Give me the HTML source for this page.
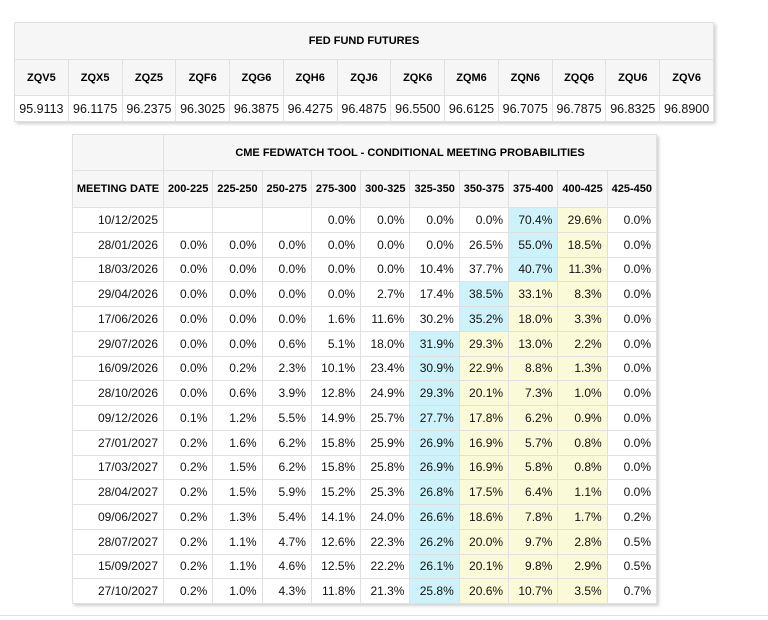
<!DOCTYPE html>
<html>
<head>
<meta charset="utf-8">
<style>
  html, body { margin: 0; padding: 0; background: #fff; }
  body { width: 768px; height: 620px; position: relative; overflow: hidden;
         font-family: "Liberation Sans", Arial, sans-serif; color: #111; }
  table { border-collapse: collapse; table-layout: fixed; position: absolute;
          box-shadow: 2px 2px 3px rgba(0,0,0,0.18); background: #fff; }
  td, th { border: 1px solid #e0e0e0; padding: 0 5px; white-space: nowrap; overflow: hidden; }
  th { background: #f6f6f6; font-weight: bold; font-size: 11px; text-align: center; color: #000; }
  #t1 { left: 14px; top: 22px; width: 700px; }
  #t1 td { font-size: 12.5px; text-align: center; padding: 0 2px; }
  #t2 { left: 72px; top: 134px; width: 584px; }
  #t2 td { font-size: 12px; text-align: right; height: 23.75px; padding: 0 5px 0 0; }
  .b { background: #cef2fa; }
  .y { background: #fafad8; }
  #line { position: absolute; left: 0; top: 615px; width: 768px; height: 1px; background: #e0e0e0; }
</style>
</head>
<body>

<table id="t1">
  <tr style="height:37px"><th colspan="13">FED FUND FUTURES</th></tr>
  <tr style="height:36px">
    <th>ZQV5</th><th>ZQX5</th><th>ZQZ5</th><th>ZQF6</th><th>ZQG6</th><th>ZQH6</th><th>ZQJ6</th><th>ZQK6</th><th>ZQM6</th><th>ZQN6</th><th>ZQQ6</th><th>ZQU6</th><th>ZQV6</th>
  </tr>
  <tr style="height:26px">
    <td>95.9113</td><td>96.1175</td><td>96.2375</td><td>96.3025</td><td>96.3875</td><td>96.4275</td><td>96.4875</td><td>96.5500</td><td>96.6125</td><td>96.7075</td><td>96.7875</td><td>96.8325</td><td>96.8900</td>
  </tr>
</table>

<table id="t2">
  <colgroup>
    <col style="width:91px">
    <col span="10" style="width:49.3px">
  </colgroup>
  <tr style="height:36px"><th></th><th colspan="10">CME FEDWATCH TOOL - CONDITIONAL MEETING PROBABILITIES</th></tr>
  <tr style="height:37px">
    <th style="padding:0 3px">MEETING DATE</th><th style="padding:0">200-225</th><th style="padding:0">225-250</th><th style="padding:0">250-275</th><th style="padding:0">275-300</th><th style="padding:0">300-325</th><th style="padding:0">325-350</th><th style="padding:0">350-375</th><th style="padding:0">375-400</th><th style="padding:0">400-425</th><th style="padding:0">425-450</th>
  </tr>
  <tr><td>10/12/2025</td><td></td><td></td><td></td><td>0.0%</td><td>0.0%</td><td>0.0%</td><td>0.0%</td><td class="b">70.4%</td><td class="y">29.6%</td><td>0.0%</td></tr>
  <tr><td>28/01/2026</td><td>0.0%</td><td>0.0%</td><td>0.0%</td><td>0.0%</td><td>0.0%</td><td>0.0%</td><td>26.5%</td><td class="b">55.0%</td><td class="y">18.5%</td><td>0.0%</td></tr>
  <tr><td>18/03/2026</td><td>0.0%</td><td>0.0%</td><td>0.0%</td><td>0.0%</td><td>0.0%</td><td>10.4%</td><td>37.7%</td><td class="b">40.7%</td><td class="y">11.3%</td><td>0.0%</td></tr>
  <tr><td>29/04/2026</td><td>0.0%</td><td>0.0%</td><td>0.0%</td><td>0.0%</td><td>2.7%</td><td>17.4%</td><td class="b">38.5%</td><td class="y">33.1%</td><td class="y">8.3%</td><td>0.0%</td></tr>
  <tr><td>17/06/2026</td><td>0.0%</td><td>0.0%</td><td>0.0%</td><td>1.6%</td><td>11.6%</td><td>30.2%</td><td class="b">35.2%</td><td class="y">18.0%</td><td class="y">3.3%</td><td>0.0%</td></tr>
  <tr><td>29/07/2026</td><td>0.0%</td><td>0.0%</td><td>0.6%</td><td>5.1%</td><td>18.0%</td><td class="b">31.9%</td><td class="y">29.3%</td><td class="y">13.0%</td><td class="y">2.2%</td><td>0.0%</td></tr>
  <tr><td>16/09/2026</td><td>0.0%</td><td>0.2%</td><td>2.3%</td><td>10.1%</td><td>23.4%</td><td class="b">30.9%</td><td class="y">22.9%</td><td class="y">8.8%</td><td class="y">1.3%</td><td>0.0%</td></tr>
  <tr><td>28/10/2026</td><td>0.0%</td><td>0.6%</td><td>3.9%</td><td>12.8%</td><td>24.9%</td><td class="b">29.3%</td><td class="y">20.1%</td><td class="y">7.3%</td><td class="y">1.0%</td><td>0.0%</td></tr>
  <tr><td>09/12/2026</td><td>0.1%</td><td>1.2%</td><td>5.5%</td><td>14.9%</td><td>25.7%</td><td class="b">27.7%</td><td class="y">17.8%</td><td class="y">6.2%</td><td class="y">0.9%</td><td>0.0%</td></tr>
  <tr><td>27/01/2027</td><td>0.2%</td><td>1.6%</td><td>6.2%</td><td>15.8%</td><td>25.9%</td><td class="b">26.9%</td><td class="y">16.9%</td><td class="y">5.7%</td><td class="y">0.8%</td><td>0.0%</td></tr>
  <tr><td>17/03/2027</td><td>0.2%</td><td>1.5%</td><td>6.2%</td><td>15.8%</td><td>25.8%</td><td class="b">26.9%</td><td class="y">16.9%</td><td class="y">5.8%</td><td class="y">0.8%</td><td>0.0%</td></tr>
  <tr><td>28/04/2027</td><td>0.2%</td><td>1.5%</td><td>5.9%</td><td>15.2%</td><td>25.3%</td><td class="b">26.8%</td><td class="y">17.5%</td><td class="y">6.4%</td><td class="y">1.1%</td><td>0.0%</td></tr>
  <tr><td>09/06/2027</td><td>0.2%</td><td>1.3%</td><td>5.4%</td><td>14.1%</td><td>24.0%</td><td class="b">26.6%</td><td class="y">18.6%</td><td class="y">7.8%</td><td class="y">1.7%</td><td>0.2%</td></tr>
  <tr><td>28/07/2027</td><td>0.2%</td><td>1.1%</td><td>4.7%</td><td>12.6%</td><td>22.3%</td><td class="b">26.2%</td><td class="y">20.0%</td><td class="y">9.7%</td><td class="y">2.8%</td><td>0.5%</td></tr>
  <tr><td>15/09/2027</td><td>0.2%</td><td>1.1%</td><td>4.6%</td><td>12.5%</td><td>22.2%</td><td class="b">26.1%</td><td class="y">20.1%</td><td class="y">9.8%</td><td class="y">2.9%</td><td>0.5%</td></tr>
  <tr><td>27/10/2027</td><td>0.2%</td><td>1.0%</td><td>4.3%</td><td>11.8%</td><td>21.3%</td><td class="b">25.8%</td><td class="y">20.6%</td><td class="y">10.7%</td><td class="y">3.5%</td><td>0.7%</td></tr>
</table>

<div id="line"></div>

</body>
</html>
